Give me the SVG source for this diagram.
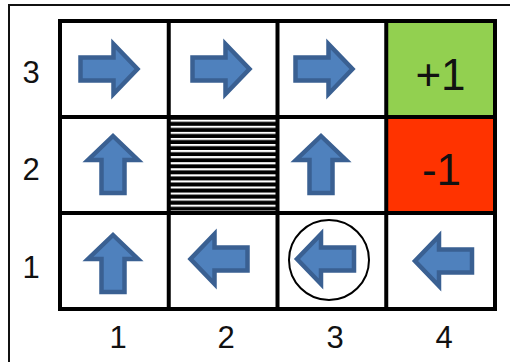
<svg xmlns="http://www.w3.org/2000/svg" width="510" height="362" viewBox="0 0 510 362">
<style>
.grid{stroke:#000;stroke-width:4;fill:none;stroke-linecap:square}
.arrow{fill:#4F81BD;stroke:#3A6092;stroke-width:4.5;stroke-linejoin:miter}
.lbl{font-family:"Liberation Sans",Arial,sans-serif;font-size:31px;fill:#111;text-anchor:middle}
.big{font-family:"Liberation Sans",Arial,sans-serif;font-size:44px;fill:#111;text-anchor:middle}
</style>
<defs>
<polygon id="ar" points="-28.5,-11.5 4.5,-11.5 4.5,-25 28.5,0 4.5,25 4.5,11.5 -28.5,11.5"/>
<pattern id="hatch" patternUnits="userSpaceOnUse" x="0" y="119.7" width="10" height="6.07">
<rect width="10" height="6.07" fill="#000"/>
<rect width="10" height="2.1" fill="#fff"/>
</pattern>
</defs>
<rect width="510" height="362" fill="#fff"/>
<path d="M9,362 V5 H510" fill="none" stroke="#111" stroke-width="2"/>

<g id="cell-4-3"><rect x="386" y="21" width="109" height="96" fill="#92D050"/><text class="big" x="440.5" y="90">+1</text></g>
<g id="cell-4-2"><rect x="386" y="117" width="109" height="96" fill="#FF3300"/><text class="big" x="441.5" y="185">-1</text></g>
<g id="cell-2-2"><rect x="170" y="118" width="107" height="92.6" fill="url(#hatch)"/></g>

<g id="grid">
<rect class="grid" x="60" y="21" width="435" height="288"/>
<line class="grid" x1="168.75" y1="21" x2="168.75" y2="309"/>
<line class="grid" x1="277.5" y1="21" x2="277.5" y2="309"/>
<line class="grid" x1="386.25" y1="21" x2="386.25" y2="309"/>
<line class="grid" x1="60" y1="117" x2="495" y2="117"/>
<line class="grid" x1="60" y1="213" x2="495" y2="213"/>
</g>

<g id="cell-1-3"><use href="#ar" class="arrow" transform="translate(109,69)"/></g>
<g id="cell-2-3"><use href="#ar" class="arrow" transform="translate(221,69)"/></g>
<g id="cell-3-3"><use href="#ar" class="arrow" transform="translate(324,69)"/></g>
<g id="cell-1-2"><use href="#ar" class="arrow" transform="translate(113,164.5) rotate(-90)"/></g>
<g id="cell-3-2"><use href="#ar" class="arrow" transform="translate(321,164.5) rotate(-90)"/></g>
<g id="cell-1-1"><use href="#ar" class="arrow" transform="translate(113,263.5) rotate(-90)"/></g>
<g id="cell-2-1"><use href="#ar" class="arrow" transform="translate(219,259) rotate(180)"/></g>
<g id="cell-3-1"><use href="#ar" class="arrow" transform="translate(325.5,259) rotate(180)"/><circle cx="329" cy="260" r="40" fill="none" stroke="#000" stroke-width="2"/></g>
<g id="cell-4-1"><use href="#ar" class="arrow" transform="translate(443.5,261) rotate(180)"/></g>

<g id="row-labels">
<text class="lbl" x="31" y="83">3</text>
<text class="lbl" x="31" y="180">2</text>
<text class="lbl" x="31" y="278">1</text>
</g>
<g id="col-labels">
<text class="lbl" x="118" y="348">1</text>
<text class="lbl" x="226" y="348">2</text>
<text class="lbl" x="335" y="348">3</text>
<text class="lbl" x="444" y="348">4</text>
</g>
</svg>
